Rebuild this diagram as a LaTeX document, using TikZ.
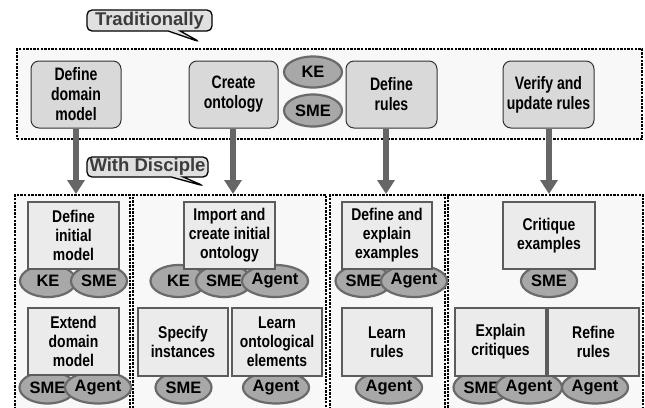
\documentclass[tikz,border=0pt]{standalone}
\usepackage{fontspec}
\setmainfont{Liberation Sans}
\newfontfamily\topfont[FakeStretch=0.78]{Liberation Sans}
\newfontfamily\boxfont[FakeStretch=0.82]{Liberation Sans}
\usetikzlibrary{arrows.meta,shapes.callouts,shapes.geometric}
\definecolor{cfill}{HTML}{F8F8F8}
\definecolor{tbfill}{HTML}{D9D9D9}
\definecolor{bbfill}{HTML}{EBEBEB}
\definecolor{bbdraw}{HTML}{5C5C5C}
\definecolor{elfill}{HTML}{A8A8A8}
\definecolor{eldraw}{HTML}{6A6A6A}
\definecolor{arrcol}{HTML}{666666}
\definecolor{calltext}{HTML}{3C3C3C}
\definecolor{callfill}{HTML}{E0E0E0}
\begin{document}
\begin{tikzpicture}[x=1pt,y=-1pt,
  container/.style={draw=black, line width=1.8pt, dash pattern=on 2.4pt off 1.2pt, fill=cfill, inner sep=0pt},
  topbox/.style={draw=black!80, line width=1pt, fill=tbfill, rounded corners=8pt, minimum width=90pt, minimum height=67pt, inner sep=0pt, align=center, font=\topfont\bfseries\fontsize{18}{20}\selectfont},
  botbox/.style={draw=bbdraw, line width=1.8pt, fill=bbfill, minimum width=91pt, minimum height=67pt, inner sep=0pt, align=center, font=\boxfont\bfseries\fontsize{17}{19}\selectfont},
  actor/.style={ellipse, draw=eldraw, line width=2.2pt, fill=elfill, minimum width=56pt, minimum height=32pt, inner sep=0pt, font=\bfseries\fontsize{16.5}{16}\selectfont},
  arr/.style={draw=arrcol, line width=6pt, -{Triangle[width=17pt,length=14pt]}},
  callbox/.style={rectangle callout, draw=black, line width=1.3pt, fill=callfill, rounded corners=5pt, inner sep=0pt, callout pointer width=12pt, text=calltext, font=\bfseries\fontsize{18.5}{18}\selectfont}
]
\useasboundingbox (0,0) rectangle (645,407);

% containers
\node (top) [container, minimum width=625pt, minimum height=90pt] at (329.5,94) {};
\node (c1) [container, minimum width=115pt, minimum height=217pt] at (72.5,303.5) {};
\node (c2) [container, minimum width=193pt, minimum height=217pt] at (229.5,303.5) {};
\node (c3) [container, minimum width=115pt, minimum height=217pt] at (387.5,303.5) {};
\node (c4) [container, minimum width=195pt, minimum height=217pt] at (545.5,303.5) {};

% top boxes
\node (tb1) [topbox] at (76,94.5) {Define\\domain\\model};
\node (tb2) [topbox, minimum width=89pt] at (233.5,94.5) {Create\\ontology};
\node (tb3) [topbox, minimum width=91pt] at (391.5,94.5) {Define\\rules};
\node (tb4) [topbox, minimum width=91pt] at (548.5,94.5) {Verify and\\update rules};
\node (ke0) [actor, minimum width=58pt, minimum height=31pt] at (313,72) {KE};
\node (sme0) [actor, minimum width=58pt] at (313,110.5) {SME};

% arrows
\coordinate (a1) at (76,194);
\coordinate (a2) at (233,194);
\coordinate (a3) at (386,194);
\coordinate (a4) at (549,194);
\draw[arr] (a1 |- tb1.south) -- (a1);
\draw[arr] (a2 |- tb2.south) -- (a2);
\draw[arr] (a3 |- tb3.south) -- (a3);
\draw[arr] (a4 |- tb4.south) -- (a4);

% callouts
\node (trad) [callbox, minimum width=125pt, minimum height=21pt, callout absolute pointer={(200,42)}] at (149.5,20.5) {Traditionally};
\node (disc) [callbox, minimum width=121pt, minimum height=20pt, callout absolute pointer={(204,186)}] at (147.5,167) {With Disciple};

% bottom actors
\node (e1) [actor] at (48,281) {KE};
\node (e2) [actor] at (99,281) {SME};
\node (e3) [actor] at (47.5,387.5) {SME};
\node (e4) [actor] at (98,387.5) {Agent};
\node (e5) [actor] at (178.5,281) {KE};
\node (e6) [actor] at (224,281) {SME};
\node (e7) [actor] at (275,281) {Agent};
\node (e8) [actor] at (183.5,387.5) {SME};
\node (e9) [actor] at (276,387.5) {Agent};
\node (e10) [actor] at (363.5,281) {SME};
\node (e11) [actor] at (414,281) {Agent};
\node (e12) [actor] at (389,387.5) {Agent};
\node (e13) [actor] at (549,281) {SME};
\node (e14) [actor] at (481.5,387.5) {SME};
\node (e15) [actor] at (529,387.5) {Agent};
\node (e16) [actor] at (595,387.5) {Agent};

% bottom boxes
\node (b1) [botbox] at (73.5,235.5) {Define\\initial\\model};
\node (b2) [botbox] at (73.5,341.5) {Extend\\domain\\model};
\node (b3) [botbox] at (229.5,235.5) {Import and\\create initial\\ontology};
\node (b4) [botbox, minimum width=90pt, minimum height=68pt] at (183,342) {Specify\\instances};
\node (b5) [botbox, minimum width=90pt, minimum height=68pt] at (277,342) {Learn\\ontological\\elements};
\node (b6) [botbox, minimum width=90pt] at (387,235.5) {Define and\\explain\\examples};
\node (b7) [botbox, minimum width=90pt, minimum height=68pt] at (387,342) {Learn\\rules};
\node (b8) [botbox, minimum width=92pt] at (549,235.5) {Critique\\examples};
\node (b9) [botbox, minimum height=68pt] at (500.5,342) {Explain\\critiques};
\node (b10) [botbox, minimum height=68pt] at (593.5,342) {Refine\\rules};
\end{tikzpicture}
\end{document}
